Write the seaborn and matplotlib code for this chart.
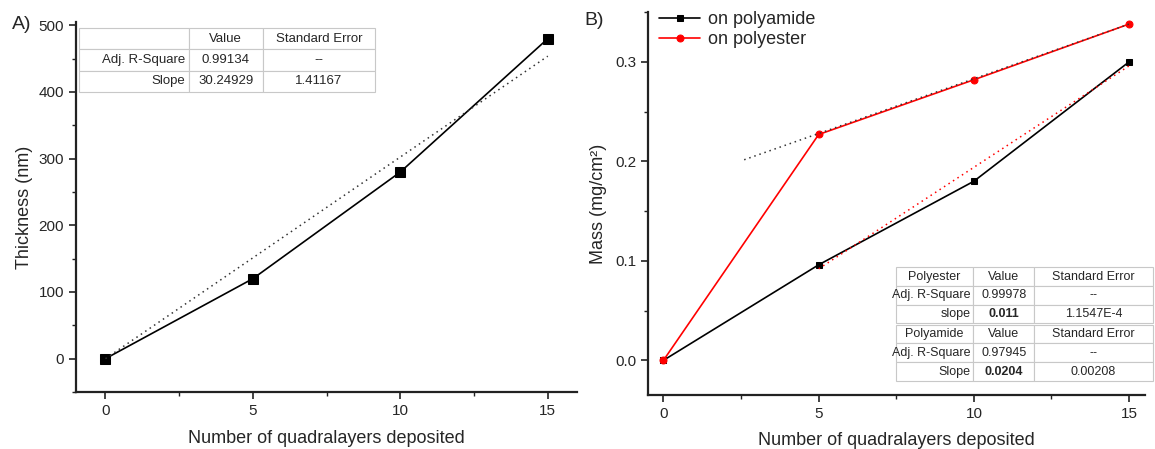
import numpy as np
import matplotlib
matplotlib.use("Agg")
import matplotlib.pyplot as plt
from matplotlib.ticker import MultipleLocator
import seaborn as sns

# data
layers = [0, 5, 10, 15]
thickness = [0, 120, 280, 480]
mass_polyamide = [0, 0.096, 0.18, 0.30]
mass_polyester = [0, 0.227, 0.282, 0.338]

# linear fits shown as dotted lines
fit_a_x = [0, 15]
fit_a_slope, fit_a_icpt = 30.24929, 0.0
fit_pes_x = [2.6, 15]
fit_pes_slope, fit_pes_icpt = 0.011, 0.173
fit_pa_x = [5, 15]
fit_pa_slope, fit_pa_icpt = 0.0204, -0.01

table_a = [["", "Value", "Standard Error"],
           ["Adj. R-Square", "0.99134", "--"],
           ["Slope", "30.24929", "1.41167"]]
table_pes = [["Polyester", "Value", "Standard Error"],
             ["Adj. R-Square", "0.99978", "--"],
             ["slope", "0.011", "1.1547E-4"]]
table_pa = [["Polyamide", "Value", "Standard Error"],
            ["Adj. R-Square", "0.97945", "--"],
            ["Slope", "0.0204", "0.00208"]]

sns.set_theme(style="ticks")
plt.rcParams['font.family'] = ['Liberation Sans', 'DejaVu Sans']

fig = plt.figure(figsize=(11.55, 4.49), dpi=100)
ax1 = fig.add_axes([0.0658, 0.127, 0.434, 0.824])
ax2 = fig.add_axes([0.561, 0.120, 0.430, 0.853])


def style_axis(ax):
    sns.despine(ax=ax)
    for s in ["left", "bottom"]:
        ax.spines[s].set_color("#222222")
        ax.spines[s].set_linewidth(1.6)
    ax.tick_params(which="both", direction="out", color="#222222", labelsize=11)
    ax.tick_params(which="major", length=5, width=1.2)
    ax.tick_params(which="minor", length=3, width=1.0)
    ax.xaxis.set_major_locator(MultipleLocator(5))
    ax.xaxis.set_minor_locator(MultipleLocator(2.5))


def draw_table(ax, rows, bbox, bold_col=None, widths=(0.37, 0.25, 0.38), fs=9.5):
    tb = ax.table(cellText=rows, bbox=bbox, colWidths=list(widths),
                  cellLoc="center", zorder=5)
    tb.auto_set_font_size(False)
    tb.set_fontsize(fs)
    for (r, c), cell in tb.get_celld().items():
        cell.set_edgecolor("#c8c8c8")
        cell.set_linewidth(0.8)
        cell.set_facecolor("white")
        if c == 0 and r > 0:
            cell._loc = "right"
            cell.get_text().set_ha("right")
            cell.PAD = 0.03
        if bold_col is not None and r == 2 and c == bold_col:
            cell.get_text().set_fontweight("bold")
    return tb


# panel A
sns.lineplot(x=layers, y=thickness, ax=ax1, color="black", marker="s",
             markersize=7, linewidth=1.2, markeredgecolor="black")
xa = np.array(fit_a_x)
ax1.plot(xa, fit_a_icpt + fit_a_slope * xa, linestyle=(0, (1, 2.5)),
         color="#333333", linewidth=1.1)
ax1.set_xlim(-1, 16)
ax1.set_ylim(-50, 505)
ax1.yaxis.set_major_locator(MultipleLocator(100))
ax1.yaxis.set_minor_locator(MultipleLocator(50))
style_axis(ax1)
ax1.set_xlabel("Number of quadralayers deposited", fontsize=13, labelpad=9)
ax1.set_ylabel("Thickness (nm)", fontsize=13, labelpad=4)
draw_table(ax1, table_a, [0.006, 0.811, 0.591, 0.173])
fig.text(0.010, 0.935, "A)", fontsize=14)

# panel B
sns.lineplot(x=layers, y=mass_polyamide, ax=ax2, color="black", marker="s",
             markersize=5, linewidth=1.2, markeredgecolor="black",
             label="on polyamide")
sns.lineplot(x=layers, y=mass_polyester, ax=ax2, color="#ff0000", marker="o",
             markersize=5, linewidth=1.2, markeredgecolor="#ff0000",
             label="on polyester")
xp = np.array(fit_pes_x)
ax2.plot(xp, fit_pes_icpt + fit_pes_slope * xp, linestyle=(0, (1, 2.5)),
         color="#333333", linewidth=1.1)
xm = np.array(fit_pa_x)
ax2.plot(xm, fit_pa_icpt + fit_pa_slope * xm, linestyle=(0, (1, 2.5)),
         color="#ff0000", linewidth=1.1)
ax2.set_xlim(-0.5, 15.5)
ax2.set_ylim(-0.035, 0.35)
ax2.yaxis.set_major_locator(MultipleLocator(0.1))
ax2.yaxis.set_minor_locator(MultipleLocator(0.05))
ax2.yaxis.set_major_formatter(matplotlib.ticker.FormatStrFormatter("%.1f"))
style_axis(ax2)
ax2.set_xlabel("Number of quadralayers deposited", fontsize=13, labelpad=8)
ax2.set_ylabel("Mass (mg/cm²)", fontsize=13, labelpad=6)
ax2.legend(loc="upper left", bbox_to_anchor=(0.0, 1.03), frameon=False,
           fontsize=13, handlelength=2.3, handletextpad=0.4,
           borderaxespad=0.2, labelspacing=0.15)
draw_table(ax2, table_pes, [0.499, 0.187, 0.517, 0.147], bold_col=1,
           widths=(0.30, 0.24, 0.46), fs=9)
draw_table(ax2, table_pa, [0.499, 0.037, 0.517, 0.147], bold_col=1,
           widths=(0.30, 0.24, 0.46), fs=9)
fig.text(0.506, 0.945, "B)", fontsize=14)

fig.savefig("out.png", dpi=100)
